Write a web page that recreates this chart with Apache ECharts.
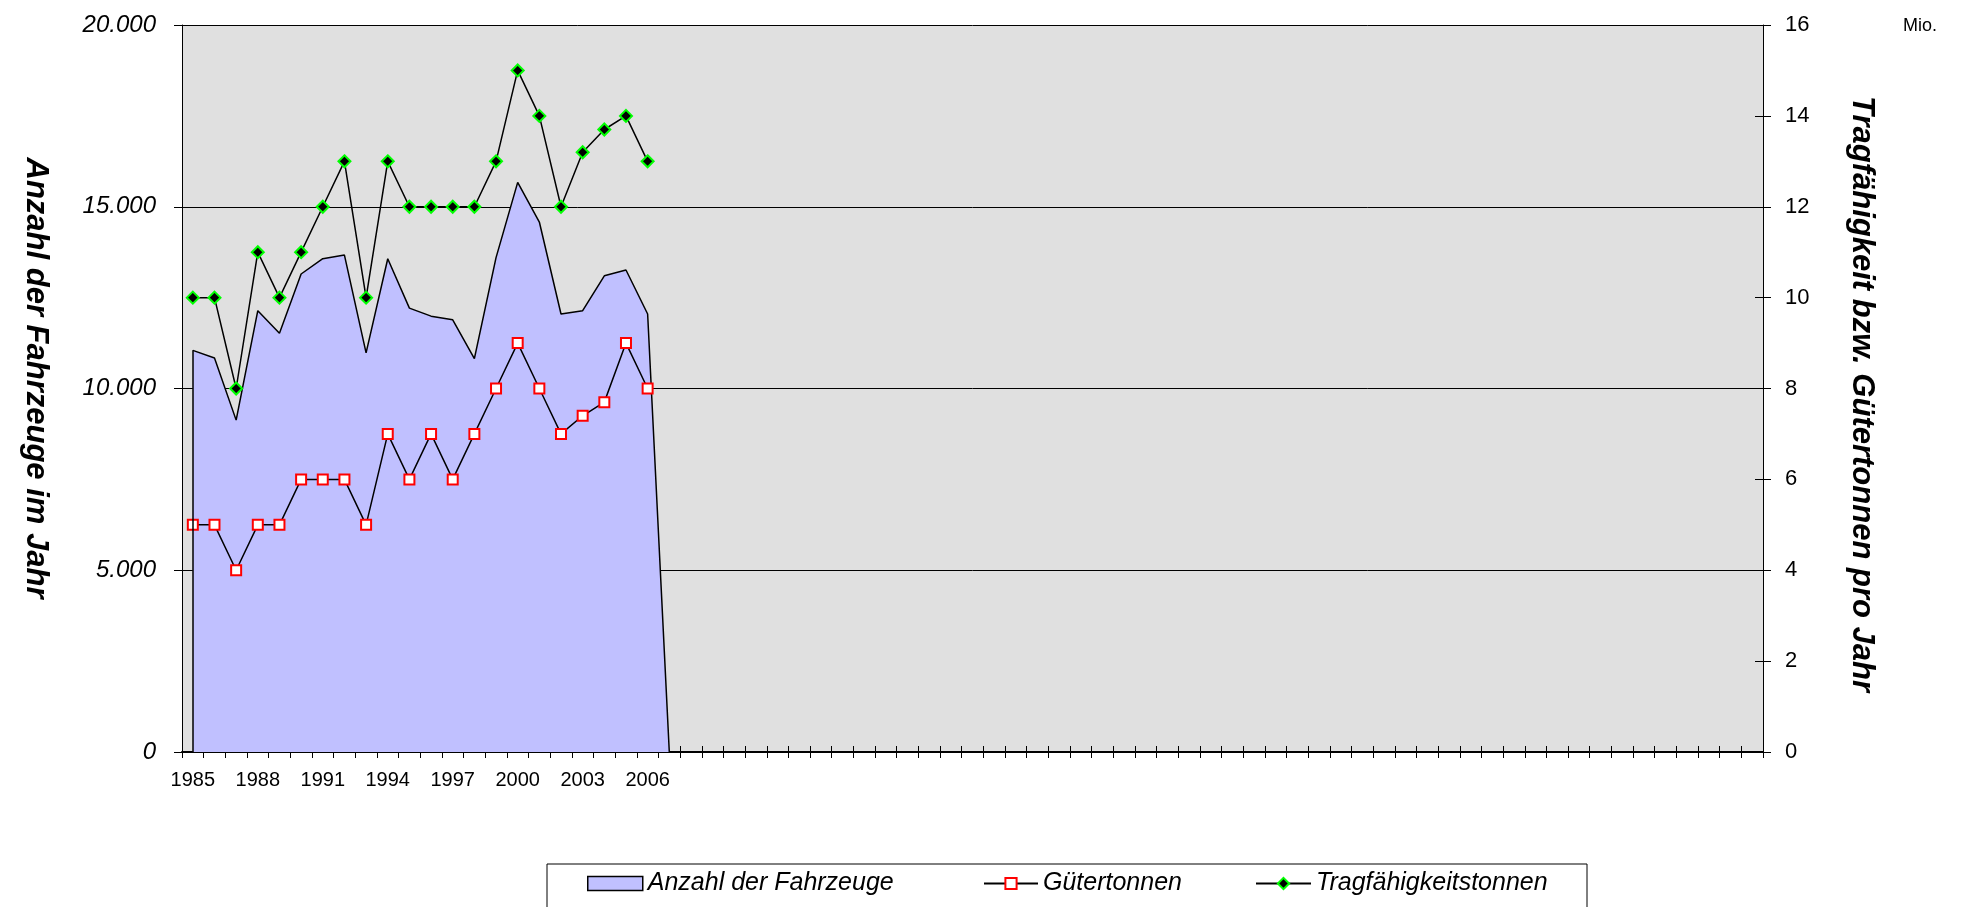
<!DOCTYPE html>
<html>
<head>
<meta charset="utf-8">
<script src="https://cdn.jsdelivr.net/npm/echarts@6.0.0/dist/echarts.min.js"></script>
<style>
  html, body { margin: 0; padding: 0; background: #fff; }
  #main { width: 1966px; height: 907px; }
</style>
</head>
<body>
<div id="main"></div>
<script>
// Jahre (Kategorien), danach leere Plätze wie im Original
var years = ['1985', '1986', '1987', '1988', '1989', '1990', '1991', '1992', '1993', '1994', '1995',
  '1996', '1997', '1998', '1999', '2000', '2001', '2002', '2003', '2004', '2005', '2006', '2007'];
var slotCount = 73;
var categories = years.concat(new Array(slotCount - years.length).fill(''));

// Anzahl der Fahrzeuge (linke Achse)
var fahrzeuge = [11050, 10840, 9130, 12140, 11520, 13150, 13570, 13670, 10980, 13570, 12210,
  11990, 11890, 10820, 13600, 15670, 14580, 12050, 12140, 13100, 13260, 12050, 0];
// Gütertonnen in Mio. (rechte Achse)
var gueter = [5, 5, 4, 5, 5, 6, 6, 6, 5, 7, 6, 7, 6, 7, 8, 9, 8, 7, 7.4, 7.7, 9, 8];
// Tragfähigkeitstonnen in Mio. (rechte Achse)
var tragf = [10, 10, 8, 11, 10, 11, 12, 13, 10, 13, 12, 12, 12, 12, 13, 15, 14, 12, 13.2, 13.7, 14, 13];

var leftTicks = [0, 5000, 10000, 15000, 20000];
var rightTicks = [0, 2, 4, 6, 8, 10, 12, 14, 16];

var font = "'Liberation Sans', Arial, sans-serif";

function fmtDe(v) {
  // 20000 -> 20.000
  return String(v).replace(/\B(?=(\d{3})+(?!\d))/g, '.');
}

var legendText = { fontSize: 25, fontStyle: 'italic', color: '#000', lineHeight: 25 };

var myChart = echarts.init(document.getElementById('main'));
myChart.setOption({
  animation: false,
  textStyle: { fontFamily: font },
  grid: {
    left: 182, right: 203, top: 25, bottom: 155,
    show: true, backgroundColor: '#E0E0E0', borderWidth: 0
  },
  legend: [
    {
      data: [{ name: 'Anzahl der Fahrzeuge', icon: 'rect',
        itemStyle: { color: '#C0C0FF', borderColor: '#000', borderWidth: 1.5 } }],
      left: 587, top: 871, padding: 0, itemWidth: 55, itemHeight: 14,
      textStyle: legendText
    },
    {
      data: ['Gütertonnen'],
      left: 983, top: 871, padding: 0, itemWidth: 54, itemHeight: 14,
      textStyle: legendText
    },
    {
      data: ['Tragfähigkeitstonnen'],
      left: 1255, top: 871, padding: 0, itemWidth: 55, itemHeight: 14,
      textStyle: legendText
    }
  ],
  xAxis: [
    {
      type: 'category', data: categories, boundaryGap: true, position: 'bottom',
      axisLine: { show: true, lineStyle: { color: '#000', width: 2 } },
      axisTick: { show: true, interval: 0, length: 6, lineStyle: { color: '#000', width: 1 } },
      axisLabel: { interval: 2, margin: 18, fontSize: 20, color: '#000' },
      splitLine: { show: false }
    },
    {
      // Striche nach innen, damit sie die Achse kreuzen
      type: 'category', data: categories, boundaryGap: true, position: 'bottom',
      axisLine: { show: false },
      axisTick: { show: true, interval: 0, inside: true, length: 6, lineStyle: { color: '#000', width: 1 } },
      axisLabel: { show: false },
      splitLine: { show: false }
    }
  ],
  yAxis: [
    {
      type: 'value', min: leftTicks[0], max: leftTicks[leftTicks.length - 1], interval: 5000,
      position: 'left',
      axisLine: { show: true, lineStyle: { color: '#000' } },
      axisTick: { show: true, length: 8, lineStyle: { color: '#000' } },
      axisLabel: { margin: 26, fontSize: 24, fontStyle: 'italic', color: '#000', formatter: fmtDe },
      splitLine: { show: true, lineStyle: { color: '#000', width: 1 } }
    },
    {
      type: 'value', min: rightTicks[0], max: rightTicks[rightTicks.length - 1], interval: 2,
      position: 'right',
      axisLine: { show: true, lineStyle: { color: '#000' } },
      axisTick: { show: true, length: 8, lineStyle: { color: '#000' } },
      axisLabel: { margin: 22, fontSize: 22, color: '#000' },
      splitLine: { show: false }
    },
    {
      type: 'value', min: rightTicks[0], max: rightTicks[rightTicks.length - 1], interval: 2,
      position: 'right',
      axisLine: { show: false },
      axisTick: { show: true, inside: true, length: 8, lineStyle: { color: '#000' } },
      axisLabel: { show: false },
      splitLine: { show: false }
    }
  ],
  graphic: [
    {
      type: 'text', x: 36, y: 378, rotation: -Math.PI / 2,
      style: { text: 'Anzahl der Fahrzeuge im Jahr', font: 'italic bold 31px ' + font,
        fill: '#000', align: 'center', verticalAlign: 'middle' }
    },
    {
      type: 'text', x: 1862, y: 394, rotation: -Math.PI / 2,
      style: { text: 'Tragfähigkeit bzw. Gütertonnen pro Jahr', font: 'italic bold 31px ' + font,
        fill: '#000', align: 'center', verticalAlign: 'middle' }
    },
    {
      type: 'text', x: 1903, y: 26,
      style: { text: 'Mio.', font: '18px ' + font, fill: '#000', align: 'left', verticalAlign: 'middle' }
    },
    {
      type: 'rect', shape: { x: 547, y: 864, width: 1040, height: 80 },
      style: { fill: 'none', stroke: '#000', lineWidth: 1 }, z: -1
    }
  ],
  series: [
    {
      name: 'Anzahl der Fahrzeuge', type: 'line', data: fahrzeuge,
      xAxisIndex: 0, yAxisIndex: 0,
      symbol: 'none',
      itemStyle: { color: '#C0C0FF' },
      lineStyle: { color: '#000', width: 1.5 },
      areaStyle: { color: '#C0C0FF', opacity: 1 },
      markLine: {
        silent: true, symbol: 'none', label: { show: false },
        lineStyle: { color: '#000', width: 1.5, type: 'solid' },
        data: [[{ coord: [categories[0], 0] }, { coord: [categories[0], fahrzeuge[0]] }]]
      }
    },
    {
      name: 'Gütertonnen', type: 'line', data: gueter,
      xAxisIndex: 0, yAxisIndex: 1,
      symbol: 'rect', symbolSize: 10,
      itemStyle: { color: '#fff', borderColor: '#FF0000', borderWidth: 2 },
      lineStyle: { color: '#000', width: 1.5 }
    },
    {
      name: 'Tragfähigkeitstonnen', type: 'line', data: tragf,
      xAxisIndex: 0, yAxisIndex: 1,
      symbol: 'diamond', symbolSize: 12,
      itemStyle: { color: '#000', borderColor: '#00FF00', borderWidth: 2 },
      lineStyle: { color: '#000', width: 1.5 }
    }
  ]
});
</script>
</body>
</html>
